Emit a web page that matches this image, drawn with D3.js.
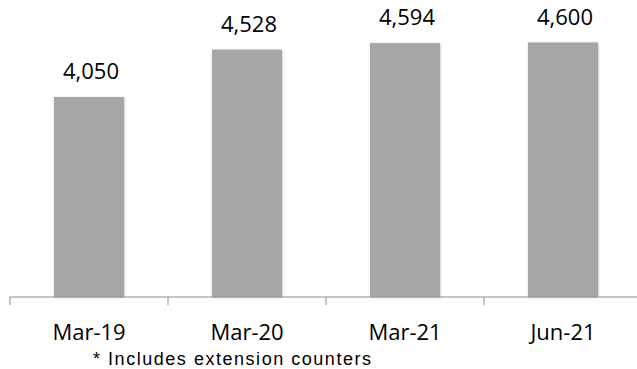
<!DOCTYPE html>
<html>
<head>
<meta charset="utf-8">
<title>Counters</title>
<script src="https://d3js.org/d3.v7.min.js"></script>
<style>
body { margin: 0; background: #fff; }
</style>
</head>
<body>
<script type="text/javascript">

var width = 637,
    height = 369,
    axisY = 297,
    barWidth = 70;

var categories = ["Mar-19", "Mar-20", "Mar-21", "Jun-21"];
var values = [4050, 4528, 4594, 4600];
var footnote = "* Includes extension counters";

var fmt = d3.format(",");

var svg = d3.select("body").append("svg")
    .attr("width", width)
    .attr("height", height);

var defs = svg.append("defs");
defs.append("filter")
    .attr("id", "shadow")
    .attr("x", "-10%").attr("y", "-10%")
    .attr("width", "120%").attr("height", "120%")
  .append("feDropShadow")
    .attr("dx", 0.5).attr("dy", 0.5)
    .attr("stdDeviation", 0.8)
    .attr("flood-color", "#000")
    .attr("flood-opacity", 0.25);

var x = d3.scaleBand()
    .domain(categories)
    .range([10, 642])
    .padding(0);

var y = d3.scaleLinear()
    .domain([2030, 4600])
    .range([axisY, 42.5]);

// bars
svg.selectAll("rect.bar")
    .data(values)
    .enter().append("rect")
    .attr("class", "bar")
    .attr("x", function(d, i) { return x(categories[i]) + x.bandwidth() / 2 - barWidth / 2; })
    .attr("y", function(d) { return y(d); })
    .attr("width", barWidth)
    .attr("height", function(d) { return axisY - y(d); })
    .style("fill", "#a6a6a6")
    .attr("filter", "url(#shadow)");

// value labels
svg.selectAll("text.val")
    .data(values)
    .enter().append("text")
    .attr("class", "val")
    .attr("x", function(d, i) { return x(categories[i]) + x.bandwidth() / 2 + 2; })
    .attr("y", function(d) { return y(d) - 18; })
    .attr("text-anchor", "middle")
    .style("font-family", "'Open Sans', sans-serif")
    .style("font-size", "22px")
    .style("fill", "#000")
    .text(function(d) { return fmt(d); });

// axis
var axis = d3.axisBottom(x)
    .tickSize(0)
    .tickPadding(20);

var ax = svg.append("g")
    .attr("transform", "translate(0," + axisY + ")")
    .call(axis);

ax.select(".domain").remove();
ax.append("line")
    .attr("x1", 10).attr("x2", 642)
    .attr("y1", 0).attr("y2", 0)
    .style("stroke", "#8c8c8c");

ax.selectAll(".sep")
    .data(categories.concat(["end"]))
    .enter().append("line")
    .attr("class", "sep")
    .attr("x1", function(d, i) { return 10 + i * x.bandwidth(); })
    .attr("x2", function(d, i) { return 10 + i * x.bandwidth(); })
    .attr("y1", 0).attr("y2", 8)
    .style("stroke", "#8c8c8c");

ax.selectAll(".tick text")
    .attr("dy", 0)
    .attr("y", 43)
    .style("font-family", "'Open Sans', sans-serif")
    .style("font-size", "22px")
    .style("fill", "#000");

svg.append("text")
    .attr("x", 93)
    .attr("y", 365)
    .attr("textLength", 278)
    .attr("lengthAdjust", "spacing")
    .style("font-family", "'Liberation Sans', Arial, sans-serif")
    .style("font-size", "18px")
    .style("fill", "#000")
    .text(footnote);

</script>
</body>
</html>
